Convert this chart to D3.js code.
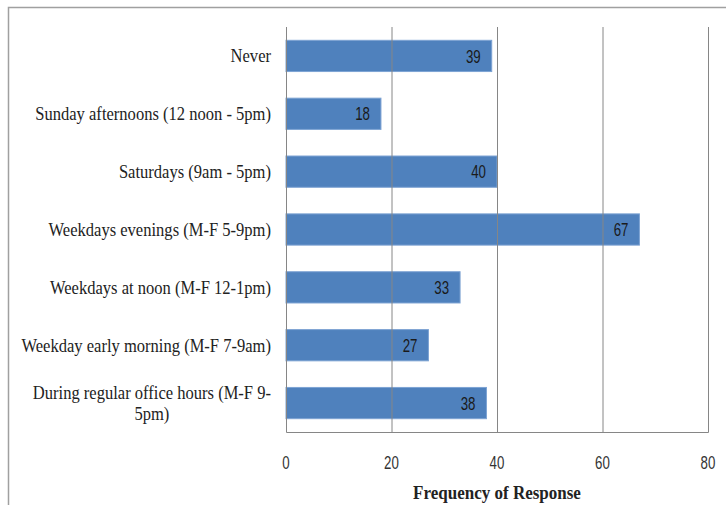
<!DOCTYPE html>
<html><head><meta charset="utf-8">
<script src="https://cdn.jsdelivr.net/npm/d3@7"></script>
<style>body{margin:0;background:#fff}svg{display:block}</style>
</head><body>
<svg id="c" width="726" height="505"></svg>
<script>
const categories = ["Never","Sunday afternoons (12 noon - 5pm)","Saturdays (9am - 5pm)","Weekdays evenings (M-F 5-9pm)","Weekdays at noon (M-F 12-1pm)","Weekday early morning (M-F 7-9am)","During regular office hours (M-F 9-|5pm)"];
const values = [39,18,40,67,33,27,38];
const xTicks = [0,20,40,60,80];
const xTitle = "Frequency of Response";

const svg = d3.select("#c");
const m = {l:286, r:708, t:27, b:432};
const x = d3.scaleLinear().domain([0,80]).range([m.l,m.r]);
const y = d3.scaleBand().domain(categories).range([m.t,m.b]).paddingInner(0.46).paddingOuter(0.23);

const SERIF = "'Liberation Serif', serif";
const SANS = "'Liberation Sans', sans-serif";

// helper: text squeezed horizontally
function sText(g, tx, ty, str, opts){
  const gg = g.append("g").attr("transform",`translate(${tx},${ty}) scale(${opts.sx},1)`);
  return gg.append("text").attr("text-anchor",opts.anchor||"middle").attr("dy","0.35em")
    .attr("font-family",opts.font).attr("font-size",opts.size).attr("font-weight",opts.weight||"normal")
    .attr("fill",opts.fill||"#222").text(str);
}

// outer frame
svg.append("path").attr("d","M8.5,505 V7.5 H726").attr("fill","none").attr("stroke","#a0a0a0").attr("stroke-width",1.5);

// bars
svg.append("g").selectAll("rect").data(values).join("rect")
  .attr("x",x(0)).attr("y",(d,i)=>y(categories[i]))
  .attr("width",d=>x(d)-x(0)).attr("height",y.bandwidth())
  .attr("fill","#4f81bd").attr("stroke","#7da3d3").attr("stroke-width",1);

// gridlines (drawn on top)
const xAxis = d3.axisBottom(x).tickValues(xTicks).tickSize(-(m.b-m.t)).tickFormat("");
const gx = svg.append("g").attr("transform",`translate(0,${m.b})`).call(xAxis);
gx.select(".domain").attr("stroke","#868686");
gx.selectAll(".tick line").attr("stroke","#868686");

// tick labels via scale
const tl = svg.append("g");
xTicks.forEach(t=>sText(tl, x(t), 462.5, d3.format("d")(t), {sx:0.7, font:SANS, size:19, fill:"#333"}));

// left axis line
svg.append("line").attr("x1",m.l+0.5).attr("x2",m.l+0.5).attr("y1",m.t).attr("y2",m.b).attr("stroke","#868686");

// value labels
const vl = svg.append("g");
values.forEach((v,i)=>sText(vl, x(v)-11, y(categories[i])+y.bandwidth()/2, v, {sx:0.7, font:SANS, size:19, anchor:"end", fill:"#1a1a1a"}));

// category labels
const cl = svg.append("g");
categories.forEach(c=>{
  const lines = c.split("|");
  const cy = y(c)+y.bandwidth()/2;
  const lh = 21;
  const y0 = cy - (lines.length-1)*lh/2;
  const gg = cl.append("g").attr("transform",`translate(271,0) scale(0.92,1)`);
  const t = gg.append("text").attr("font-family",SERIF).attr("font-size",18).attr("fill","#222").attr("text-anchor","middle");
  lines.forEach((ln,k)=>t.append("tspan").attr("y",y0+k*lh).attr("dy","0.35em").text(ln));
  const w = d3.max(t.selectAll("tspan").nodes(), n=>n.getComputedTextLength());
  t.selectAll("tspan").attr("x",-w/2);
});

// axis title
sText(svg, (m.l+m.r)/2, 493, xTitle, {sx:0.945, font:SERIF, size:18, weight:"bold", fill:"#222"});
</script>
</body></html>
